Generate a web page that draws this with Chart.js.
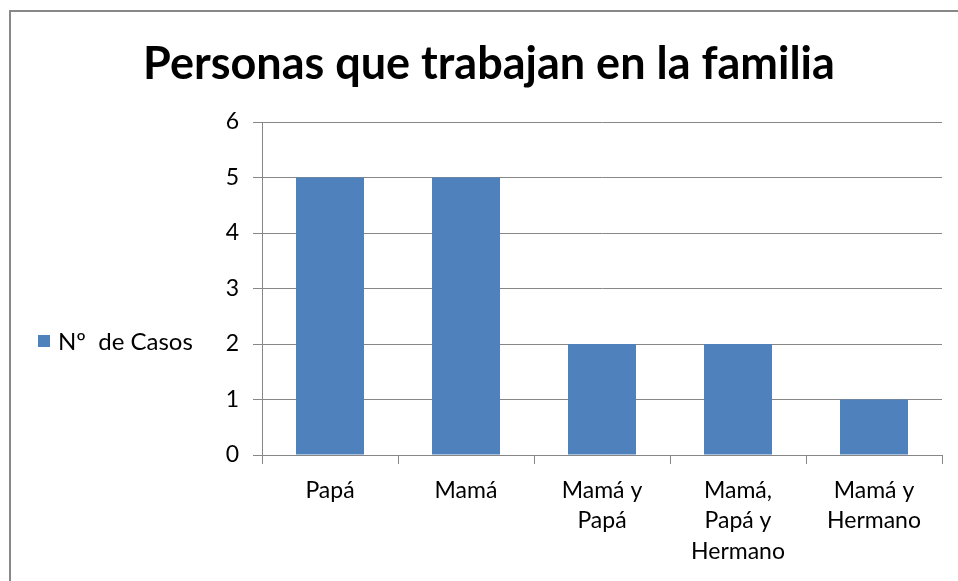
<!DOCTYPE html>
<html lang="es">
<head>
<meta charset="utf-8">
<title>Personas que trabajan en la familia</title>
<script src="https://cdn.jsdelivr.net/npm/chart.js@4.4.1/dist/chart.umd.min.js"></script>
<style>
    html, body { margin: 0; padding: 0; background: #fff; overflow: hidden; }
    #wrap { position: relative; width: 958px; height: 581px; font-family: Lato, "Open Sans", sans-serif; }
    #frame { position: absolute; left: 9px; top: 10px; width: 960px; height: 580px; border: 2px solid #888; box-sizing: border-box; }
    #titulo { position: absolute; left: 0; top: 35px; width: 978px; text-align: center; font-weight: bold; font-size: 45px; line-height: 54px; color: #000; }
    #leyenda { position: absolute; left: 38px; top: 326px; font-size: 24px; color: #000; white-space: pre; display: flex; align-items: center; }
    #leyenda span.caja { display: inline-block; width: 12px; height: 12px; background: #4F81BD; margin-right: 8px; }
    canvas { position: absolute; left: 0; top: 0; }
</style>
</head>
<body>
<div id="wrap">
    <div id="frame"></div>
    <canvas id="grafico" width="958" height="581"></canvas>
    <div id="titulo">Personas que trabajan en la familia</div>
    <div id="leyenda"><span class="caja"></span><span id="serieNombre"></span></div>
</div>
<script>
// Datos
const categorias = [
    "Papá",
    "Mamá",
    ["Mamá y", "Papá"],
    ["Mamá,", "Papá y", "Hermano"],
    ["Mamá y", "Hermano"],
];
const casos = [5, 5, 2, 2, 1];
const serieNombre = "Nº  de Casos";
const ticksY = [0, 1, 2, 3, 4, 5, 6];

document.getElementById("serieNombre").textContent = serieNombre;

const gris = "#878787";
const fuente = { family: "Lato, 'Open Sans', sans-serif", size: 23 };

new Chart(document.getElementById("grafico"), {
    type: "bar",
    data: {
        labels: categorias,
        datasets: [
            {
                label: serieNombre,
                data: casos,
                backgroundColor: "#4F81BD",
                categoryPercentage: 1,
                barPercentage: 0.5,
            },
        ],
    },
    options: {
        responsive: false,
        animation: false,
        events: [],
        layout: { padding: { left: 200, top: 122, right: 16, bottom: 0 } },
        plugins: {
            legend: { display: false },
            title: { display: false },
            tooltip: { enabled: false },
        },
        scales: {
            x: {
                offset: true,
                grid: { offset: true, drawOnChartArea: false, color: gris, tickLength: 9 },
                border: { color: gris },
                ticks: { color: "#000", font: { ...fuente, lineHeight: 1.33 }, padding: 11, maxRotation: 0, autoSkip: false },
                afterFit: (s) => { s.height = 126; },
            },
            y: {
                min: 0,
                max: 6,
                afterBuildTicks: (s) => { s.ticks = ticksY.map((v) => ({ value: v })); },
                grid: { color: gris, tickLength: 9 },
                border: { color: gris },
                ticks: { color: "#000", font: fuente, padding: 14 },
                afterFit: (s) => { s.width = 62; },
            },
        },
    },
});
</script>
</body>
</html>
